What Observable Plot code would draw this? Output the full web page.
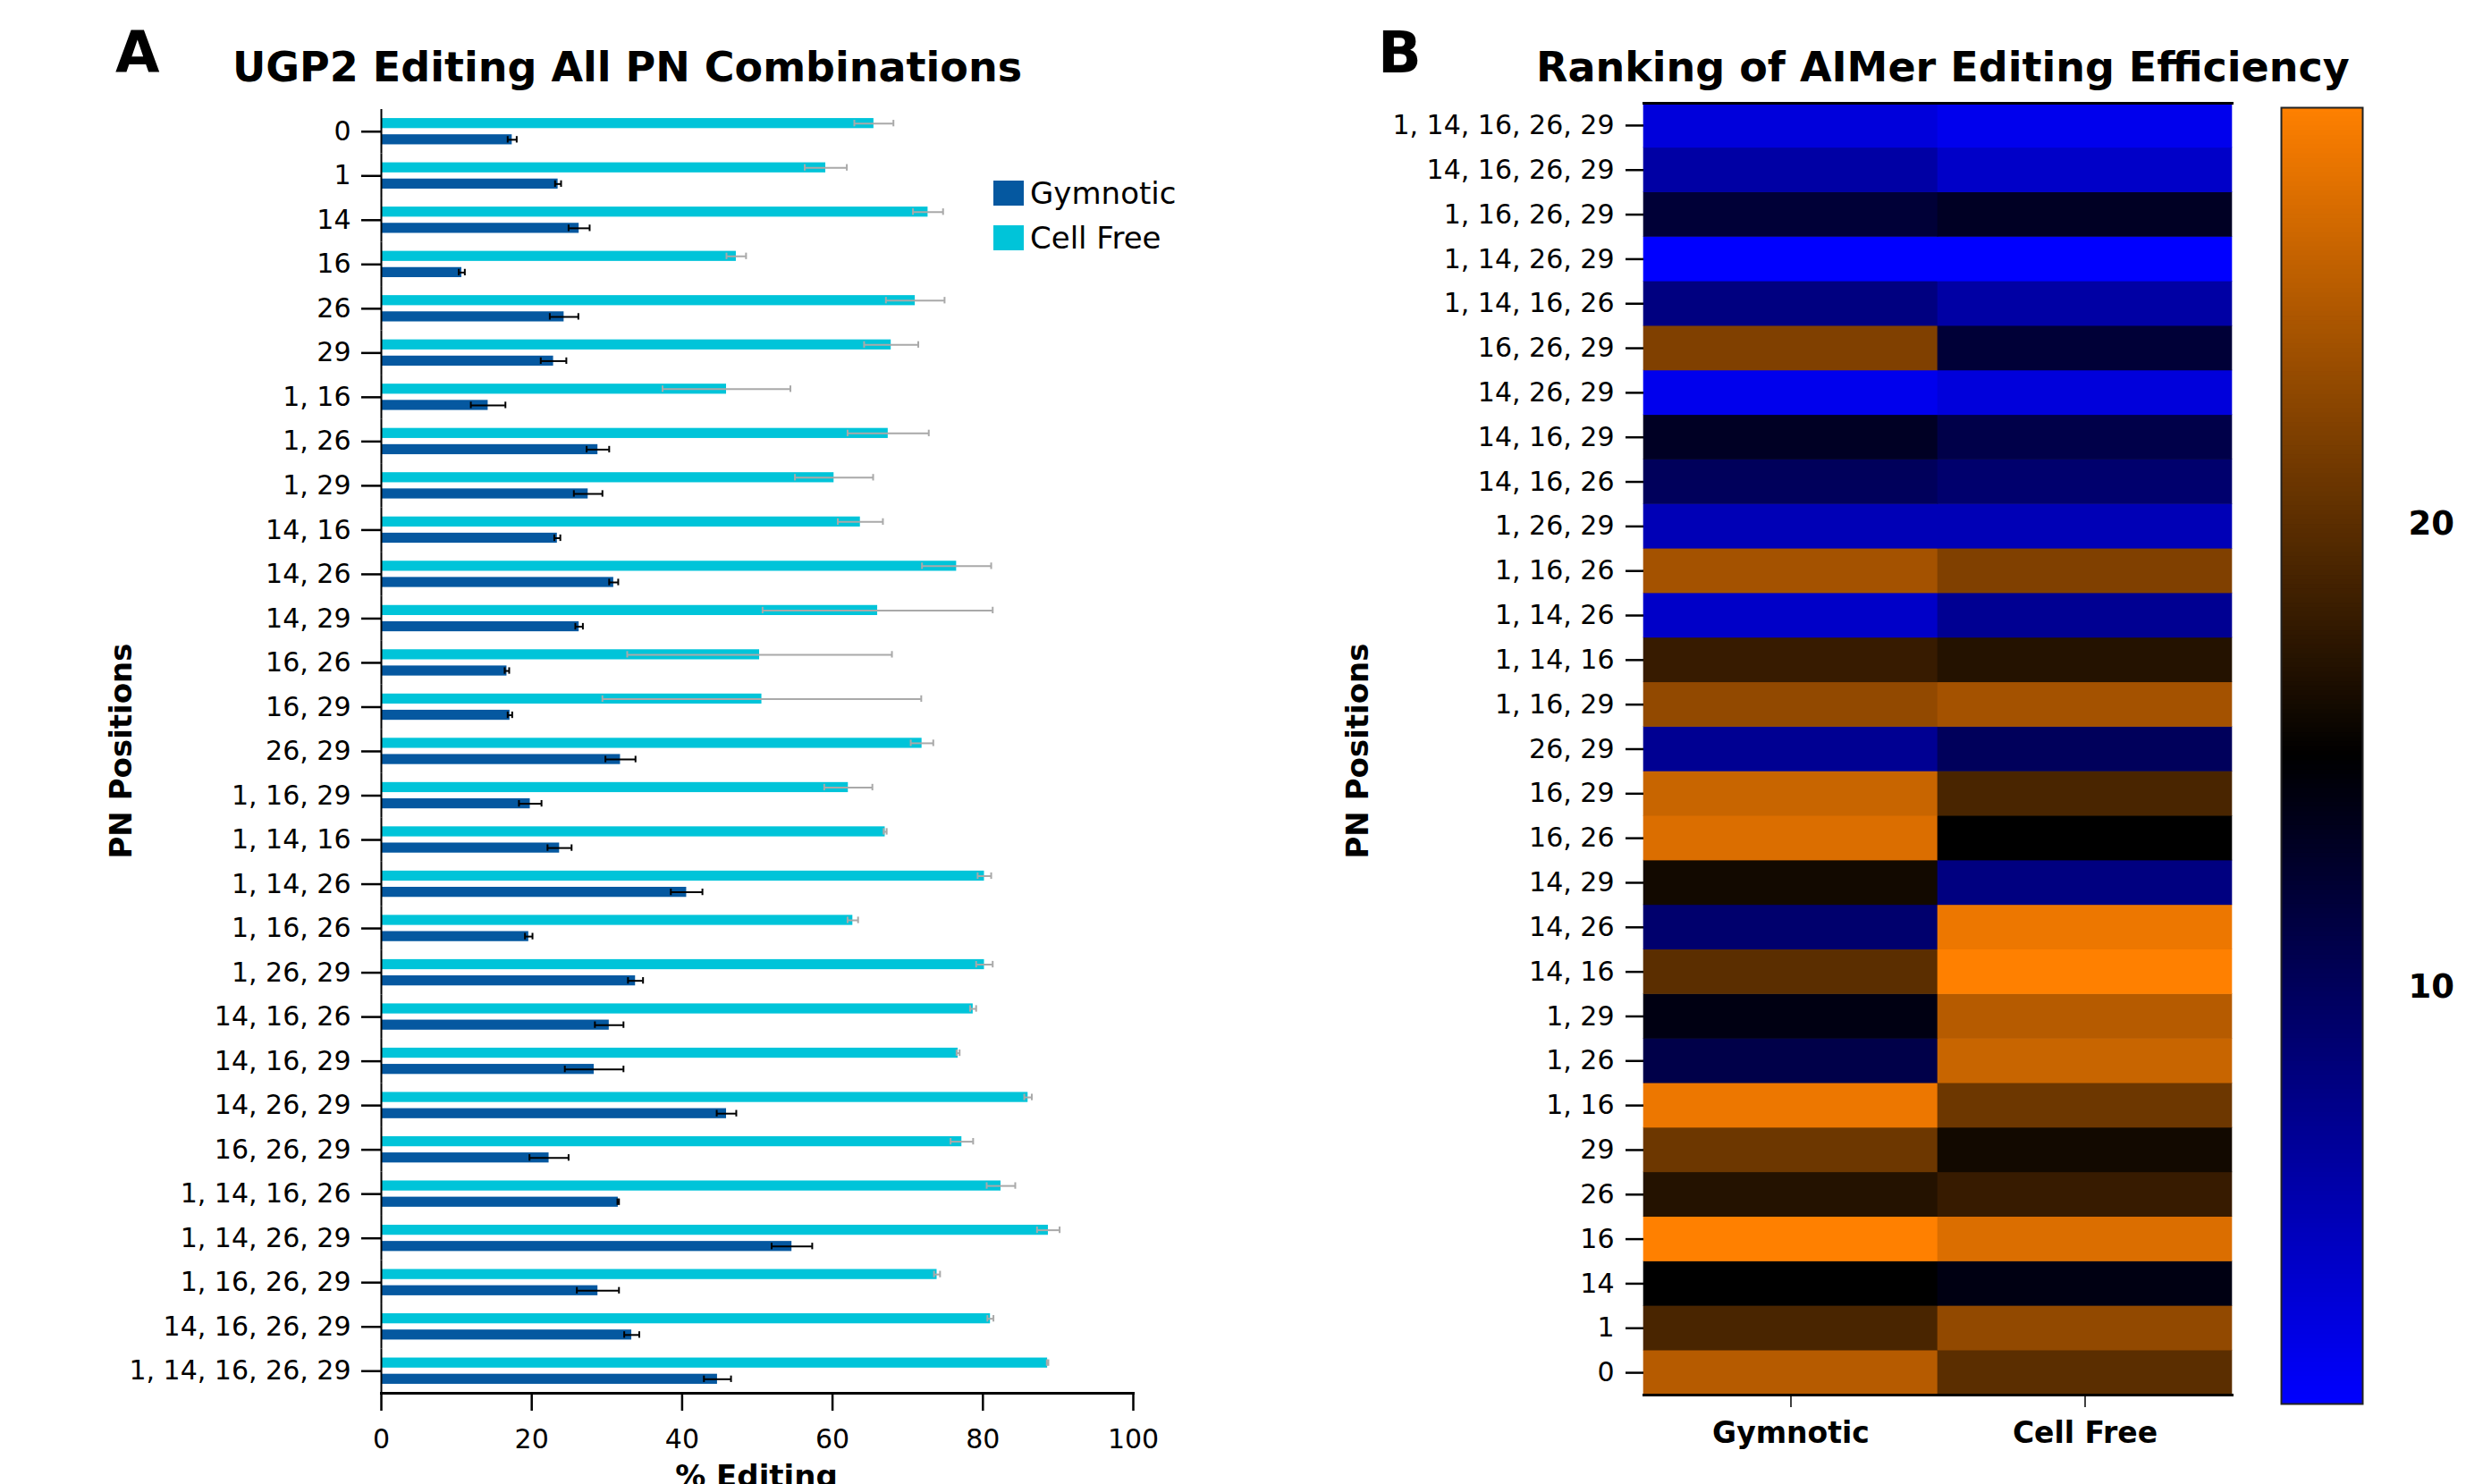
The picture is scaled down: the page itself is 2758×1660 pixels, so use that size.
<!DOCTYPE html>
<html>
<head>
<meta charset="utf-8">
<script src="https://cdn.jsdelivr.net/npm/d3@7"></script>
<script src="https://cdn.jsdelivr.net/npm/@observablehq/plot@0.6"></script>
<style>
  html, body { margin: 0; padding: 0; background: #fff; }
  #page { position: relative; width: 2758px; height: 1660px; overflow: hidden; background: #fff; font-family: "DejaVu Sans", Verdana, sans-serif; color: #000; }
  .abs { position: absolute; white-space: nowrap; line-height: 1; }
  .letter { font-size: 64px; font-weight: bold; }
  .title { font-size: 46px; font-weight: bold; }
  .axlabel { font-size: 34px; font-weight: bold; }
  .rot { transform: translate(-50%, -50%) rotate(-90deg); }
  .legrow { position: absolute; display: flex; align-items: center; font-size: 34px; }
  .sw { width: 34px; height: 28px; margin-right: 7px; }
</style>
</head>
<body>
<div id="page">
  <div class="abs letter" style="left:129px; top:27px;">A</div>
  <div class="abs title" style="left:260px; top:52px;">UGP2 Editing All PN Combinations</div>
  <div class="abs letter" style="left:1541px; top:27px;">B</div>
  <div class="abs title" style="left:1718px; top:52px;">Ranking of AIMer Editing Efficiency</div>
  <div class="abs axlabel rot" style="left:135px; top:840px;">PN Positions</div>
  <div class="abs axlabel rot" style="left:1518px; top:840px;">PN Positions</div>
  <div class="abs axlabel" style="left:846px; top:1634px; transform: translateX(-50%);">% Editing</div>
  <div id="panelA" class="abs" style="left:0px; top:100px;"></div>
  <div id="panelB" class="abs" style="left:1440px; top:100px;"></div>
  <div id="cbar" class="abs" style="left:2540px; top:100px;"></div>
  <div id="legend" class="abs" style="left:1111px; top:199px;"></div>
</div>
<script>
// ---------- data ----------
const categories = ["0", "1", "14", "16", "26", "29",
  "1, 16", "1, 26", "1, 29", "14, 16", "14, 26", "14, 29", "16, 26", "16, 29", "26, 29",
  "1, 16, 29", "1, 14, 16", "1, 14, 26", "1, 16, 26", "1, 26, 29", "14, 16, 26", "14, 16, 29", "14, 26, 29", "16, 26, 29",
  "1, 14, 16, 26", "1, 14, 26, 29", "1, 16, 26, 29", "14, 16, 26, 29", "1, 14, 16, 26, 29"];

const seriesNames = ["Cell Free", "Gymnotic"];
const methodNames = ["Gymnotic", "Cell Free"];

const gymnoticMean = [17.4, 23.5, 26.3, 10.7, 24.3, 22.9,
  14.2, 28.8, 27.5, 23.4, 30.9, 26.3, 16.7, 17.1, 31.8,
  19.8, 23.7, 40.6, 19.6, 33.8, 30.3, 28.3, 45.9, 22.3,
  31.5, 54.6, 28.8, 33.3, 44.7];
const gymnoticErr = [0.6, 0.4, 1.4, 0.4, 1.9, 1.7,
  2.3, 1.5, 1.9, 0.4, 0.6, 0.5, 0.3, 0.3, 2.0,
  1.5, 1.6, 2.1, 0.5, 1.0, 1.9, 3.9, 1.3, 2.6,
  0.1, 2.7, 2.8, 1.0, 1.8];
const cellFreeMean = [65.5, 59.1, 72.7, 47.2, 71.0, 67.8,
  45.9, 67.4, 60.2, 63.7, 76.5, 66.0, 50.3, 50.6, 71.9,
  62.1, 67.0, 80.2, 62.7, 80.2, 78.7, 76.7, 86.0, 77.2,
  82.4, 88.7, 73.9, 81.0, 88.6];
const cellFreeErr = [2.6, 2.8, 2.0, 1.3, 3.9, 3.6,
  8.5, 5.4, 5.2, 3.0, 4.6, 15.3, 17.6, 21.2, 1.5,
  3.2, 0.2, 0.9, 0.7, 1.1, 0.4, 0.2, 0.5, 1.5,
  1.9, 1.5, 0.4, 0.4, 0.1];

// ranking (1 = most efficient)
const gymnoticRank = [25, 19, 15, 29, 17, 21,
  28, 11, 14, 20, 9, 16, 27, 26, 7,
  23, 18, 4, 24, 5, 10, 13, 2, 22,
  8, 1, 12, 6, 3];
const cellFreeRank = [20, 23, 14, 27, 18, 16,
  21, 26, 25, 29, 28, 8, 15, 19, 10,
  24, 17, 7, 22, 5, 9, 11, 3, 12,
  6, 1, 13, 4, 2];

const xTicks = [0, 20, 40, 60, 80, 100];
const rankTicks = [10, 20];
const rankDomain = [1, 15, 29];

// ---------- colours ----------
const cellFreeColor = "#00c4d9";
const gymnoticColor = "#0558a0";
const rankColors = ["#0000ff", "#000000", "#ff8000"];

// ---------- tables ----------
const barData = categories.flatMap((c, i) => [
  {pos: c, series: "Cell Free", mean: cellFreeMean[i], err: cellFreeErr[i]},
  {pos: c, series: "Gymnotic", mean: gymnoticMean[i], err: gymnoticErr[i]}
]);
const cfData = barData.filter(d => d.series === "Cell Free");
const gyData = barData.filter(d => d.series === "Gymnotic");

const heatData = categories.flatMap((c, i) => [
  {pos: c, method: "Gymnotic", rank: gymnoticRank[i]},
  {pos: c, method: "Cell Free", rank: cellFreeRank[i]}
]);

const font = "DejaVu Sans";

function errorMarks(data, color) {
  return [
    Plot.ruleY(data, {x1: d => d.mean - d.err, x2: d => d.mean + d.err, y: "series", fy: "pos", stroke: color, strokeWidth: 2}),
    Plot.tickX(data, {x: d => d.mean - d.err, y: "series", fy: "pos", stroke: color, strokeWidth: 2, insetTop: 2, insetBottom: 2}),
    Plot.tickX(data, {x: d => d.mean + d.err, y: "series", fy: "pos", stroke: color, strokeWidth: 2, insetTop: 2, insetBottom: 2})
  ];
}

// ---------- panel A ----------
const plotA = Plot.plot({
  width: 1380, height: 1560,
  marginLeft: 426, marginRight: 113, marginTop: 22, marginBottom: 102,
  style: {fontFamily: font, fontSize: "30px", color: "#000", background: "transparent", overflow: "visible"},
  x: {domain: [0, 100]},
  y: {domain: seriesNames, paddingInner: 0.38, paddingOuter: 0.555, round: false, axis: null},
  fy: {domain: categories, padding: 0, round: false},
  color: {domain: seriesNames, range: [cellFreeColor, gymnoticColor]},
  marks: [
    Plot.barX(barData, {x: "mean", y: "series", fy: "pos", fill: "series"}),
    ...errorMarks(cfData, "#a9a9a9"),
    ...errorMarks(gyData, "#000000"),
    Plot.ruleX([0], {stroke: "#000", strokeWidth: 2}),
    Plot.frame({anchor: "bottom", fy: categories[categories.length - 1], stroke: "#000", strokeWidth: 3}),
    Plot.axisFy({anchor: "left", tickSize: 22, tickPadding: 12, strokeWidth: 2.5, fontSize: 30, label: null}),
    Plot.axisX({anchor: "bottom", ticks: xTicks, tickSize: 20, tickPadding: 20, strokeWidth: 2.5, fontSize: 30, label: null})
  ]
});
document.getElementById("panelA").appendChild(plotA);

// legend
const legend = document.getElementById("legend");
[["Gymnotic", gymnoticColor], ["Cell Free", cellFreeColor]].forEach(([name, col], k) => {
  const row = document.createElement("div");
  row.className = "legrow";
  row.style.top = (k * 50) + "px";
  row.style.left = "0px";
  row.innerHTML = `<div class="sw" style="background:${col}"></div><span>${name}</span>`;
  legend.appendChild(row);
});

// ---------- panel B ----------
const colorScale = {type: "linear", domain: rankDomain, range: rankColors, interpolate: "rgb"};

const plotB = Plot.plot({
  width: 1066, height: 1560,
  marginLeft: 398, marginRight: 10, marginTop: 15, marginBottom: 100,
  style: {fontFamily: font, fontSize: "30px", color: "#000", background: "transparent", overflow: "visible"},
  x: {domain: methodNames, padding: 0, round: false},
  y: {domain: categories.slice().reverse(), padding: 0, round: false},
  color: colorScale,
  marks: [
    Plot.cell(heatData, {x: "method", y: "pos", fill: "rank", inset: -0.3}),
    Plot.frame({anchor: "top", stroke: "#000", strokeWidth: 3}),
    Plot.frame({anchor: "bottom", stroke: "#000", strokeWidth: 3}),
    Plot.axisY({anchor: "left", tickSize: 20, tickPadding: 13, strokeWidth: 2.5, fontSize: 30, label: null}),
    Plot.axisX({anchor: "bottom", tickSize: 14, tickPadding: 16, strokeWidth: 1.5, fontSize: 33, fontWeight: "bold", label: null})
  ]
});
document.getElementById("panelB").appendChild(plotB);

// ---------- colour bar ----------
const rampSteps = d3.range(1, 29, 0.1);
const cbar = Plot.plot({
  width: 218, height: 1560,
  marginLeft: 11, marginRight: 116, marginTop: 20, marginBottom: 90,
  style: {fontFamily: font, fontSize: "37px", color: "#000", background: "transparent", overflow: "visible"},
  x: {domain: [0, 1], axis: null},
  y: {domain: [1, 29]},
  color: colorScale,
  marks: [
    Plot.rect(rampSteps, {x1: 0, x2: 1, y1: d => d, y2: d => Math.min(29, d + 0.13), fill: d => d + 0.05}),
    Plot.frame({stroke: "#222", strokeWidth: 2}),
    Plot.axisY({anchor: "right", ticks: rankTicks, tickSize: 0, tickPadding: 51, fontSize: 37, fontWeight: "bold", label: null})
  ]
});
document.getElementById("cbar").appendChild(cbar);
</script>
</body>
</html>
